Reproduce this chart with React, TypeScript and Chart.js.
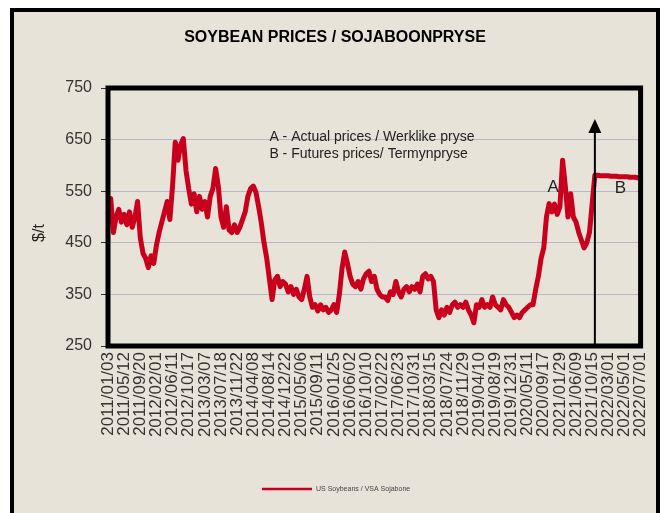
import React, { useEffect, useRef } from 'react';
import { Chart, registerables } from 'chart.js';

Chart.register(...registerables);

// ---- data ----
const tickLabels = [
  '2011/01/03', '2011/05/12', '2011/09/20', '2012/02/01', '2012/06/11', '2012/10/17',
  '2013/03/07', '2013/07/18', '2013/11/22', '2014/04/08', '2014/08/14', '2014/12/22',
  '2015/05/06', '2015/09/11', '2016/01/25', '2016/06/02', '2016/10/10', '2017/02/22',
  '2017/06/23', '2017/10/31', '2018/03/15', '2018/07/24', '2018/11/29', '2019/04/10',
  '2019/08/19', '2019/12/31', '2020/05/11', '2020/09/17', '2021/01/29', '2021/06/09',
  '2021/10/15', '2022/03/01', '2022/05/01', '2022/07/01',
];
// categories between two consecutive tick labels
const STEP = 6;

// A - actual prices ($/t)
const actualPrices = [
  507, 536, 470, 500, 515, 490,
  505, 485, 510, 480, 500, 530,
  460, 430, 420, 402, 425, 410,
  445, 470, 490, 510, 530, 495,
  560, 645, 610, 640, 652, 590,
  555, 525, 545, 510, 540, 515,
  530, 500, 540, 555, 594, 560,
  500, 480, 520, 475, 470, 485,
  470, 480, 495, 510, 540, 555,
  560, 548, 520, 488, 450, 420,
  380, 340, 378, 385, 365, 375,
  370, 355, 365, 350, 360, 345,
  340, 360, 385, 345, 325, 330,
  318, 330, 320, 325, 315, 320,
  330, 315, 350, 400, 432, 410,
  385, 370, 365, 375, 360, 380,
  390, 395, 375, 385, 360, 350,
  345, 345, 338, 355, 350, 375,
  355, 345, 360, 365, 355, 365,
  360, 370, 355, 385, 390, 380,
  385, 375, 320, 305, 320, 310,
  325, 315, 330, 335, 325, 330,
  325, 335, 320, 310, 295, 330,
  325, 340, 325, 330, 325, 345,
  330, 325, 320, 340, 330, 325,
  315, 305, 310, 305, 315, 320,
  325, 330, 330, 360, 385, 420,
  440, 500, 526, 510, 525, 505,
  520, 610, 560, 500, 545, 500,
  490, 470, 455, 440, 450, 470,
  526,
];
// B - futures prices ($/t)
const futuresPrices = [
  581, 581, 580, 580, 580, 580, 579, 579, 579,
  578, 578, 578, 578, 577, 577, 577, 576, 576,
];

const yMin = 250;
const yMax = 750;
const yStep = 100;

const chartTitle = 'SOYBEAN PRICES / SOJABOONPRYSE';
const seriesName = 'US Soybeans / VSA Sojabone';
const noteA = 'A - Actual prices / Werklike pryse';
const noteB = 'B - Futures prices/ Termynpryse';
const yTitle = '$/t';

const FONT = '"Liberation Sans", Arial, sans-serif';
const LINE_COLOR = '#c8001c';

export default function App() {
  const ref = useRef<HTMLCanvasElement>(null);

  useEffect(() => {
    if (!ref.current) return;
    const prices = [...actualPrices, ...futuresPrices];
    const labels = prices.map((_, i) => (i % STEP === 0 ? tickLabels[i / STEP] ?? '' : ''));
    const arrowIndex = actualPrices.length;

    const overlay = {
      id: 'overlay',
      afterDatasetsDraw(chart: any) {
        const { ctx, chartArea: a, scales } = chart;
        const x = scales.x;
        const y = scales.y;
        ctx.save();
        // plot frame
        ctx.strokeStyle = '#000';
        ctx.lineWidth = 5;
        ctx.strokeRect(a.left, a.top, a.right - a.left, a.bottom - a.top);

        // arrow separating actual and futures
        const ax = x.getPixelForValue(arrowIndex);
        const tip = y.getPixelForValue(690);
        ctx.lineWidth = 2;
        ctx.beginPath();
        ctx.moveTo(ax, a.bottom);
        ctx.lineTo(ax, tip + 10);
        ctx.stroke();
        ctx.fillStyle = '#000';
        ctx.beginPath();
        ctx.moveTo(ax, tip);
        ctx.lineTo(ax - 6.5, tip + 14);
        ctx.lineTo(ax + 6.5, tip + 14);
        ctx.closePath();
        ctx.fill();

        // notes
        ctx.fillStyle = '#222';
        ctx.textBaseline = 'middle';
        ctx.textAlign = 'left';
        ctx.font = `14px ${FONT}`;
        const nx = x.getPixelForValue(60);
        ctx.fillText(noteA, nx, y.getPixelForValue(655));
        ctx.fillText(noteB, nx, y.getPixelForValue(622));

        ctx.font = `17px ${FONT}`;
        ctx.textAlign = 'center';
        ctx.fillText('A', x.getPixelForValue(165.5), y.getPixelForValue(558));
        ctx.fillText('B', x.getPixelForValue(190.5), y.getPixelForValue(556));
        ctx.restore();
      },
      afterDraw(chart: any) {
        const { ctx } = chart;
        ctx.save();
        // title
        ctx.fillStyle = '#000';
        ctx.font = `bold 16px ${FONT}`;
        ctx.textAlign = 'center';
        ctx.textBaseline = 'middle';
        ctx.fillText(chartTitle, 335, 38);

        // y axis title
        ctx.save();
        ctx.translate(40, 233);
        ctx.rotate(-Math.PI / 2);
        ctx.font = `16px ${FONT}`;
        ctx.fillStyle = '#222';
        ctx.fillText(yTitle, 0, 0);
        ctx.restore();

        // legend
        ctx.strokeStyle = LINE_COLOR;
        ctx.lineWidth = 2.5;
        ctx.beginPath();
        ctx.moveTo(262, 489);
        ctx.lineTo(312, 489);
        ctx.stroke();
        ctx.fillStyle = '#444';
        ctx.font = `7px ${FONT}`;
        ctx.textAlign = 'left';
        ctx.fillText(seriesName, 316, 489);
        ctx.restore();
      },
    };

    const chart = new Chart(ref.current, {
      type: 'line',
      data: {
        labels,
        datasets: [
          {
            label: seriesName,
            data: prices,
            borderColor: LINE_COLOR,
            backgroundColor: LINE_COLOR,
            borderWidth: 5,
            pointRadius: 0,
            tension: 0,
            borderJoinStyle: 'round',
            borderCapStyle: 'round',
          },
        ],
      },
      options: {
        animation: false,
        responsive: false,
        devicePixelRatio: 1,
        layout: { padding: { top: 88, left: 0, right: 24, bottom: 0 } },
        plugins: {
          legend: { display: false },
          title: { display: false },
          tooltip: { enabled: false },
        },
        scales: {
          x: {
            type: 'category',
            offset: false,
            grid: { display: false, drawTicks: false },
            border: { display: false },
            ticks: {
              autoSkip: false,
              maxRotation: 90,
              minRotation: 90,
              padding: 6,
              color: '#333',
              font: { family: FONT, size: 17 },
              callback: (_v: any, i: number) => labels[i],
            },
            afterFit: (s: any) => {
              s.height = 167;
            },
          },
          y: {
            min: yMin,
            max: yMax,
            grid: {
              color: '#b9b8c8',
              lineWidth: 1,
              tickLength: 7,
              tickColor: '#333',
            },
            border: { display: false },
            ticks: {
              stepSize: yStep,
              padding: 9,
              color: '#333',
              font: { family: FONT, size: 16 },
            },
            afterFit: (s: any) => {
              s.width = 108;
            },
          },
        },
      },
      plugins: [overlay],
    });
    return () => chart.destroy();
  }, []);

  return (
    <div
      style={{
        position: 'fixed',
        left: 0,
        top: 0,
        width: 667,
        height: 513,
        background: '#fff',
        overflow: 'hidden',
      }}
    >
      <div
        style={{
          position: 'absolute',
          left: 10,
          top: 8,
          width: 650,
          height: 540,
          border: '4px solid #000',
          boxSizing: 'border-box',
          background: '#e8e3d9',
        }}
      />
      <canvas
        ref={ref}
        width={667}
        height={513}
        style={{ position: 'absolute', left: 0, top: 0, display: 'block' }}
      />
    </div>
  );
}
